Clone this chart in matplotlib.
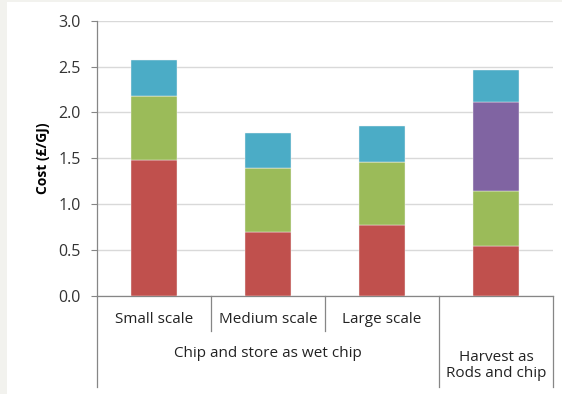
import matplotlib.pyplot as plt
from matplotlib.patches import Rectangle

# Cost components per supply chain (£/GJ), stacked bottom to top
sub_labels = ['Small scale', 'Medium scale', 'Large scale', '']
group_labels = ['Chip and store as wet chip', 'Harvest as\nRods and chip']
red_vals = [1.48, 0.70, 0.77, 0.54]
green_vals = [0.70, 0.70, 0.69, 0.60]
purple_vals = [0.00, 0.00, 0.00, 0.97]
blue_vals = [0.39, 0.38, 0.39, 0.35]

colors = ['#C0504D', '#9BBB59', '#8064A2', '#4BACC6']
series = [red_vals, green_vals, purple_vals, blue_vals]

plt.rcParams['font.family'] = ['Open Sans', 'DejaVu Sans']
FS = 11.0

fig = plt.figure(figsize=(5.62, 3.94), dpi=100)
fig.patch.set_facecolor('#F2F2EE')
fig.patches.append(Rectangle((7 / 562, 0), 1, 392 / 394, transform=fig.transFigure,
                             facecolor='white', edgecolor='none', zorder=-10))

ax = fig.add_axes([97 / 562, 98 / 394, 456 / 562, 275.3 / 394])
ax.set_facecolor('white')

x = range(len(sub_labels))
bottom = [0.0] * len(sub_labels)
for vals, col in zip(series, colors):
    ax.bar(x, vals, width=0.4, bottom=bottom, color=col, edgecolor='#f4f4f4',
           linewidth=0.3, zorder=3)
    bottom = [b + v for b, v in zip(bottom, vals)]

ax.set_xlim(-0.5, 3.5)
ax.set_ylim(0, 3.0)
ax.set_yticks([i * 0.5 for i in range(7)])
ax.set_yticklabels([f'{i * 0.5:.1f}' for i in range(7)], fontsize=11.5, color='#333333')
ax.yaxis.grid(True, color='#D9D9D9', linewidth=1.0, zorder=0)
ax.set_axisbelow(True)
ax.set_xticks([])
ax.tick_params(axis='y', length=4.5, color='#868686', width=0.8, pad=7)

for side in ['top', 'right']:
    ax.spines[side].set_visible(False)
for side in ['left', 'bottom']:
    ax.spines[side].set_color('#868686')
    ax.spines[side].set_linewidth(0.9)

ax.set_ylabel('Cost (£/GJ)', fontsize=10, fontweight='bold', labelpad=6)

# Two-level category axis below the plot
tr = ax.get_xaxis_transform()
line_kw = dict(transform=tr, color='#868686', linewidth=0.9, clip_on=False)
for xs in [0.5, 1.5]:
    ax.plot([xs, xs], [0, -0.126], **line_kw)
for xs in [-0.5, 2.5, 3.5]:
    ax.plot([xs, xs], [0, -0.33], **line_kw)

for i, lab in enumerate(sub_labels):
    if lab:
        ax.text(i, -0.087, lab, transform=tr, ha='center', va='center',
                fontsize=FS, color='#222222')

ax.text(1, -0.21, group_labels[0], transform=tr, ha='center', va='center',
        fontsize=FS, color='#222222')
ax.text(3, -0.252, group_labels[1], transform=tr, ha='center', va='center',
        fontsize=FS, color='#222222', linespacing=1.15)

fig.savefig('out.png', dpi=100, facecolor=fig.get_facecolor())
